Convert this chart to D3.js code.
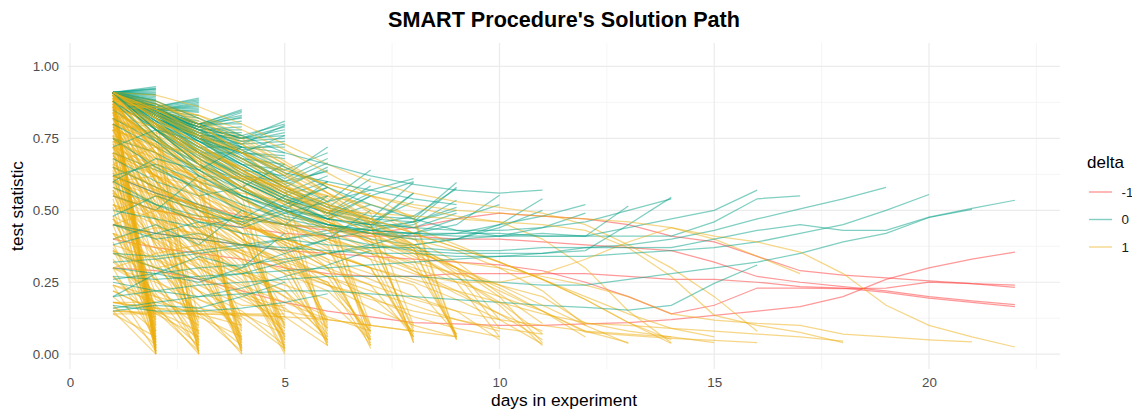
<!DOCTYPE html>
<html>
<head>
<meta charset="utf-8">
<script src="https://cdn.jsdelivr.net/npm/d3@7"></script>
<style>
html,body{margin:0;padding:0;background:#fff;}
svg{display:block;font-family:"Liberation Sans",Arial,sans-serif;}
</style>
</head>
<body>
<svg id="chart" width="1132" height="409"></svg>
<script>
// ---------- data (values per day, starting at day 1) ----------
const deltaLevels = ["-1", "0", "1"];
const xTicks = [0, 5, 10, 15, 20];
const xMinor = [2.5, 7.5, 12.5, 17.5, 22.5];
const yTicks = [0, 0.25, 0.5, 0.75, 1];
const yTickLabels = ["0.00", "0.25", "0.50", "0.75", "1.00"];
const yMinor = [0.125, 0.375, 0.625, 0.875];

// delta = -1
const redLines = [
  [0.30,0.29,0.26,0.22,0.18,0.15,0.13,0.11,0.105,0.10,0.10,0.105,0.11,0.12,0.135,0.15,0.165,0.20,0.26,0.30,0.33,0.355],
  [0.62,0.56,0.52,0.48,0.45,0.43,0.42,0.44,0.47,0.49,0.48,0.47,0.45,0.41,0.39,0.34,0.29,0.275,0.265,0.255,0.245,0.24],
  [0.55,0.50,0.47,0.44,0.42,0.41,0.41,0.41,0.40,0.40,0.39,0.38,0.37,0.36,0.32,0.27,0.25,0.235,0.22,0.20,0.185,0.172],
  [0.45,0.42,0.40,0.38,0.36,0.35,0.34,0.33,0.32,0.31,0.29,0.25,0.20,0.14,0.17,0.23,0.23,0.228,0.23,0.25,0.245,0.232],
  [0.40,0.37,0.35,0.33,0.30,0.28,0.27,0.27,0.28,0.28,0.28,0.28,0.27,0.26,0.26,0.25,0.235,0.23,0.215,0.195,0.18,0.165]
];

// delta = 0
const tealEnd2 = [
  [0.91,0.93],[0.91,0.925],[0.91,0.92],[0.91,0.915],[0.91,0.91],[0.91,0.905],[0.91,0.90],[0.91,0.895],
  [0.91,0.89],[0.91,0.885],[0.91,0.88],[0.91,0.875],[0.91,0.87],[0.91,0.865],[0.91,0.86],[0.91,0.855],
  [0.91,0.85],[0.91,0.922],[0.91,0.902],[0.91,0.882],[0.91,0.862]
];
const tealEnd3 = [
  [0.91,0.86,0.89],[0.91,0.86,0.885],[0.91,0.855,0.88],[0.91,0.85,0.875],[0.91,0.85,0.87],[0.91,0.85,0.86],
  [0.91,0.85,0.855],[0.91,0.845,0.85],[0.91,0.85,0.84],[0.91,0.845,0.83],[0.91,0.84,0.82],[0.91,0.84,0.81],
  [0.91,0.835,0.80],[0.91,0.83,0.79],[0.91,0.85,0.865],[0.91,0.85,0.845]
];
const tealEnd4 = [
  [0.91,0.85,0.80,0.85],[0.91,0.85,0.80,0.845],[0.91,0.84,0.79,0.84],[0.91,0.85,0.80,0.83],[0.91,0.84,0.79,0.825],
  [0.91,0.85,0.80,0.82],[0.91,0.84,0.79,0.81],[0.91,0.85,0.80,0.80],[0.91,0.84,0.78,0.79],[0.91,0.83,0.78,0.78],
  [0.91,0.84,0.77,0.77],[0.91,0.82,0.76,0.76],[0.91,0.83,0.76,0.75],[0.91,0.82,0.75,0.73],[0.91,0.80,0.72,0.72],
  [0.91,0.78,0.70,0.70]
];
const tealEnd5 = [
  [0.91,0.85,0.80,0.75,0.81],[0.91,0.85,0.80,0.76,0.80],[0.91,0.84,0.79,0.75,0.79],[0.91,0.85,0.79,0.75,0.78],
  [0.91,0.84,0.78,0.74,0.77],[0.91,0.85,0.79,0.75,0.76],[0.91,0.84,0.78,0.74,0.75],[0.91,0.83,0.77,0.73,0.74],
  [0.91,0.83,0.77,0.72,0.72],[0.91,0.82,0.76,0.72,0.70],[0.91,0.82,0.75,0.70,0.69],[0.91,0.81,0.75,0.70,0.68],
  [0.91,0.80,0.74,0.68,0.66],[0.91,0.80,0.72,0.66,0.64],[0.91,0.79,0.71,0.64,0.62],[0.91,0.78,0.69,0.62,0.60],
  [0.91,0.84,0.78,0.73,0.795],[0.91,0.83,0.76,0.71,0.73]
];
const tealEnd6 = [
  [0.91,0.84,0.77,0.70,0.62,0.72],[0.91,0.85,0.78,0.71,0.64,0.70],[0.91,0.83,0.75,0.68,0.61,0.68],
  [0.91,0.84,0.76,0.69,0.60,0.665],[0.91,0.82,0.74,0.66,0.58,0.65],[0.91,0.83,0.75,0.67,0.59,0.64],
  [0.91,0.81,0.72,0.64,0.56,0.62],[0.91,0.80,0.70,0.62,0.55,0.60],[0.88,0.78,0.68,0.60,0.53,0.58],
  [0.85,0.75,0.66,0.58,0.51,0.55],[0.91,0.84,0.76,0.68,0.60,0.635]
];
const tealEnd7 = [
  [0.91,0.84,0.76,0.68,0.60,0.53,0.64],[0.91,0.83,0.74,0.66,0.58,0.51,0.61],[0.91,0.82,0.73,0.64,0.56,0.49,0.585],
  [0.90,0.80,0.70,0.62,0.55,0.49,0.56],[0.88,0.78,0.68,0.60,0.53,0.47,0.55],[0.91,0.81,0.71,0.62,0.54,0.47,0.52]
];
const tealEnd8to11 = [
  [0.91,0.83,0.74,0.65,0.57,0.51,0.47,0.597],
  [0.90,0.80,0.70,0.61,0.54,0.49,0.45,0.56],
  [0.32,0.33,0.35,0.37,0.40,0.43,0.46,0.53],
  [0.91,0.84,0.75,0.66,0.58,0.52,0.48,0.47,0.597],
  [0.91,0.82,0.72,0.63,0.55,0.50,0.47,0.46,0.58],
  [0.62,0.56,0.51,0.47,0.45,0.44,0.43,0.45,0.535],
  [0.35,0.34,0.36,0.38,0.40,0.42,0.44,0.46,0.51],
  [0.91,0.80,0.70,0.61,0.54,0.49,0.46,0.44,0.49],
  [0.91,0.78,0.66,0.57,0.50,0.45,0.42,0.42,0.45,0.552],
  [0.91,0.80,0.68,0.58,0.50,0.44,0.40,0.38,0.40,0.45,0.54],
  [0.26,0.28,0.30,0.31,0.33,0.35,0.37,0.38,0.40,0.44,0.50]
];
const tealMixed = [
  [0.55,0.50,0.62],[0.40,0.45,0.38,0.50],[0.68,0.60,0.55,0.58,0.66],[0.30,0.28,0.34,0.30,0.42],
  [0.75,0.70,0.62,0.55,0.50,0.60],[0.50,0.47,0.44,0.48,0.45,0.55],[0.20,0.28,0.25,0.30,0.35,0.40,0.50],
  [0.82,0.74,0.66,0.60,0.53,0.47,0.44,0.56],[0.62,0.66,0.60,0.55,0.50,0.47,0.45,0.48,0.575],
  [0.45,0.40,0.42,0.38,0.36,0.40,0.43,0.46,0.50],[0.91,0.86,0.78,0.70,0.63,0.60,0.57,0.54,0.52],
  [0.35,0.30,0.26,0.28,0.32,0.35,0.38,0.42,0.47,0.52],[0.70,0.64,0.58,0.52,0.47,0.44,0.42,0.41,0.42,0.45,0.48,0.52],
  [0.91,0.87,0.80,0.72,0.65,0.58,0.52,0.47,0.43,0.41,0.44,0.49],[0.58,0.52,0.48,0.46,0.50,0.48,0.55,0.60],
  [0.25,0.22,0.20,0.23,0.27,0.31,0.36],[0.48,0.55,0.50,0.45,0.52,0.58],[0.15,0.17,0.16,0.20,0.25],
  [0.65,0.58,0.52,0.47,0.55],[0.80,0.72,0.64,0.57,0.51,0.47,0.45,0.44,0.43,0.43,0.44,0.46,0.50,0.54],
  [0.91,0.88,0.82,0.76,0.70,0.66,0.62,0.59,0.57,0.56,0.57],[0.38,0.42,0.46,0.44,0.49,0.53,0.57,0.61],
  [0.17,0.15,0.15,0.16,0.18,0.21],[0.72,0.78,0.74,0.70,0.76],[0.60,0.68,0.64,0.72]
];
const tealLong = [
  [0.91,0.78,0.66,0.57,0.50,0.45,0.42,0.40,0.40,0.41,0.42,0.41,0.515],
  [0.75,0.65,0.57,0.50,0.45,0.41,0.38,0.36,0.35,0.35,0.35,0.36,0.45,0.545],
  [0.16,0.18,0.20,0.21,0.22,0.22,0.21,0.20,0.19,0.18,0.17,0.163,0.153,0.17,0.246,0.31],
  [0.91,0.76,0.64,0.55,0.49,0.45,0.43,0.42,0.42,0.42,0.41,0.41,0.44,0.47,0.50,0.57],
  [0.88,0.74,0.62,0.54,0.48,0.45,0.43,0.42,0.41,0.41,0.41,0.41,0.41,0.41,0.46,0.54,0.55],
  [0.60,0.52,0.46,0.42,0.40,0.38,0.37,0.37,0.36,0.36,0.37,0.37,0.38,0.40,0.43,0.47,0.505,0.54,0.58],
  [0.45,0.42,0.40,0.38,0.37,0.36,0.35,0.35,0.34,0.34,0.34,0.34,0.35,0.36,0.37,0.39,0.42,0.45,0.50,0.555],
  [0.20,0.22,0.24,0.25,0.26,0.27,0.27,0.27,0.26,0.25,0.24,0.24,0.26,0.28,0.30,0.32,0.35,0.39,0.42,0.475,0.503],
  [0.27,0.26,0.27,0.28,0.29,0.30,0.31,0.32,0.33,0.34,0.35,0.37,0.37,0.37,0.40,0.43,0.45,0.43,0.43,0.476,0.507,0.535]
];

// delta = 1
const yellowEnd2 = [
  [0.91,0.00],[0.91,0.03],[0.90,0.06],[0.89,0.01],[0.88,0.09],[0.87,0.02],[0.86,0.05],[0.85,0.12],
  [0.84,0.00],[0.82,0.04],[0.80,0.07],[0.78,0.02],[0.76,0.10],[0.74,0.01],[0.72,0.05],[0.70,0.14],
  [0.68,0.03],[0.66,0.08],[0.64,0.00],[0.62,0.11],[0.60,0.04],[0.57,0.16],[0.54,0.06],[0.51,0.02],
  [0.48,0.13],[0.45,0.08],[0.42,0.20],[0.39,0.03],[0.36,0.10],[0.33,0.17],[0.30,0.05],[0.27,0.12],
  [0.24,0.01],[0.22,0.15],[0.20,0.08],[0.18,0.18],[0.17,0.03],[0.16,0.13],[0.15,0.00],[0.14,0.06],
  [0.91,0.01],[0.90,0.02],[0.89,0.04],[0.88,0.00],[0.87,0.03],[0.86,0.01]
];
const yellowEnd3 = [
  [0.91,0.78,0.00],[0.91,0.70,0.03],[0.90,0.64,0.07],[0.89,0.58,0.01],[0.88,0.52,0.10],[0.87,0.83,0.04],
  [0.86,0.47,0.02],[0.85,0.74,0.12],[0.84,0.41,0.05],[0.82,0.61,0.00],[0.80,0.36,0.08],[0.78,0.55,0.03],
  [0.76,0.31,0.14],[0.73,0.49,0.06],[0.70,0.27,0.01],[0.67,0.44,0.09],[0.63,0.24,0.04],[0.60,0.38,0.11],
  [0.56,0.21,0.02],[0.52,0.33,0.07],[0.47,0.19,0.13],[0.42,0.26,0.05],[0.37,0.17,0.00],[0.32,0.20,0.10],
  [0.27,0.16,0.03],[0.22,0.15,0.08],[0.18,0.15,0.01],[0.15,0.14,0.06]
];
const yellowEnd4 = [
  [0.91,0.80,0.62,0.00],[0.91,0.72,0.55,0.04],[0.90,0.66,0.48,0.08],[0.89,0.84,0.70,0.02],[0.88,0.60,0.42,0.11],
  [0.87,0.76,0.58,0.05],[0.86,0.55,0.37,0.01],[0.84,0.68,0.50,0.09],[0.82,0.50,0.33,0.03],[0.80,0.63,0.44,0.13],
  [0.78,0.46,0.29,0.06],[0.75,0.58,0.40,0.01],[0.72,0.42,0.26,0.10],[0.69,0.53,0.35,0.04],[0.65,0.38,0.22,0.07],
  [0.61,0.47,0.31,0.02],[0.57,0.34,0.19,0.12],[0.52,0.40,0.27,0.05],[0.47,0.30,0.17,0.00],[0.42,0.33,0.22,0.08],
  [0.36,0.26,0.15,0.03],[0.30,0.22,0.14,0.10],[0.24,0.18,0.14,0.01],[0.18,0.16,0.13,0.06]
];
const yellowEnd5 = [
  [0.91,0.82,0.70,0.55,0.01],[0.91,0.76,0.62,0.48,0.05],[0.90,0.70,0.55,0.42,0.09],[0.89,0.86,0.76,0.62,0.02],
  [0.88,0.65,0.50,0.37,0.13],[0.87,0.79,0.66,0.52,0.06],[0.86,0.60,0.45,0.33,0.03],[0.84,0.72,0.58,0.45,0.10],
  [0.82,0.56,0.41,0.29,0.01],[0.80,0.67,0.52,0.40,0.15],[0.78,0.51,0.37,0.26,0.07],[0.75,0.62,0.48,0.36,0.02],
  [0.72,0.47,0.33,0.23,0.11],[0.69,0.57,0.43,0.32,0.04],[0.65,0.43,0.30,0.21,0.08],[0.61,0.52,0.39,0.28,0.00],
  [0.57,0.39,0.27,0.19,0.12],[0.52,0.45,0.34,0.25,0.05],[0.47,0.35,0.24,0.17,0.17],[0.42,0.37,0.30,0.22,0.09],
  [0.36,0.30,0.22,0.15,0.03],[0.30,0.25,0.19,0.14,0.14],[0.24,0.20,0.16,0.13,0.02],[0.18,0.16,0.15,0.14,0.07]
];
const yellowEnd6 = [
  [0.91,0.84,0.75,0.64,0.52,0.04],[0.91,0.78,0.66,0.55,0.45,0.08],[0.90,0.73,0.60,0.49,0.39,0.12],
  [0.89,0.87,0.80,0.70,0.58,0.06],[0.88,0.69,0.55,0.44,0.35,0.03],[0.86,0.80,0.70,0.59,0.48,0.10],
  [0.84,0.64,0.50,0.40,0.31,0.05],[0.82,0.75,0.63,0.52,0.42,0.09],[0.79,0.60,0.46,0.36,0.28,0.04],
  [0.76,0.70,0.58,0.47,0.37,0.11],[0.72,0.56,0.43,0.33,0.25,0.07],[0.68,0.62,0.50,0.40,0.32,0.03],
  [0.63,0.50,0.38,0.29,0.22,0.09],[0.56,0.47,0.37,0.28,0.20,0.06],[0.48,0.40,0.31,0.24,0.18,0.12],
  [0.38,0.33,0.27,0.21,0.16,0.05]
];
const yellowEnd7 = [
  [0.91,0.85,0.77,0.68,0.58,0.48,0.03],[0.91,0.80,0.70,0.60,0.50,0.41,0.07],[0.90,0.76,0.64,0.54,0.45,0.37,0.10],
  [0.89,0.88,0.82,0.73,0.63,0.53,0.05],[0.87,0.72,0.60,0.50,0.41,0.33,0.02],[0.85,0.82,0.73,0.63,0.54,0.45,0.08],
  [0.82,0.68,0.56,0.46,0.38,0.30,0.04],[0.78,0.73,0.64,0.55,0.46,0.38,0.09],[0.73,0.62,0.51,0.42,0.34,0.27,0.06],
  [0.66,0.58,0.48,0.39,0.31,0.25,0.03],[0.58,0.51,0.43,0.35,0.28,0.22,0.08],[0.45,0.41,0.35,0.29,0.24,0.19,0.05]
];
const yellowEnd8 = [
  [0.91,0.86,0.79,0.71,0.62,0.53,0.45,0.04],[0.91,0.82,0.73,0.64,0.55,0.47,0.40,0.08],
  [0.90,0.78,0.67,0.58,0.50,0.43,0.36,0.06],[0.88,0.87,0.83,0.76,0.67,0.58,0.49,0.10],
  [0.86,0.74,0.63,0.54,0.46,0.39,0.33,0.05],[0.83,0.79,0.71,0.62,0.54,0.46,0.39,0.09],
  [0.79,0.70,0.60,0.51,0.43,0.36,0.30,0.07],[0.74,0.66,0.62,0.61,0.60,0.55,0.45,0.04],
  [0.65,0.58,0.50,0.42,0.35,0.29,0.24,0.06],[0.52,0.47,0.41,0.35,0.29,0.24,0.20,0.08]
];
const yellowEnd9 = [
  [0.91,0.87,0.81,0.74,0.66,0.58,0.50,0.42,0.05],[0.90,0.83,0.75,0.67,0.59,0.51,0.44,0.37,0.06],
  [0.89,0.79,0.69,0.60,0.52,0.45,0.39,0.33,0.065],[0.87,0.86,0.83,0.78,0.71,0.63,0.55,0.47,0.055],
  [0.84,0.76,0.67,0.58,0.50,0.43,0.37,0.31,0.07],[0.80,0.77,0.71,0.64,0.57,0.50,0.43,0.37,0.05],
  [0.75,0.70,0.65,0.61,0.58,0.55,0.52,0.48,0.06],[0.62,0.57,0.51,0.45,0.39,0.33,0.28,0.24,0.07]
];
const yellowEnd10to11 = [
  [0.91,0.84,0.76,0.68,0.60,0.52,0.44,0.36,0.25,0.06],
  [0.88,0.85,0.80,0.73,0.65,0.56,0.47,0.38,0.28,0.09],
  [0.80,0.74,0.68,0.62,0.56,0.50,0.44,0.38,0.30,0.12],
  [0.70,0.62,0.54,0.46,0.39,0.32,0.26,0.20,0.15,0.05],
  [0.91,0.85,0.78,0.70,0.62,0.54,0.46,0.38,0.30,0.20,0.04],
  [0.90,0.80,0.70,0.61,0.53,0.46,0.40,0.34,0.27,0.18,0.07],
  [0.86,0.80,0.72,0.64,0.56,0.49,0.42,0.35,0.27,0.17,0.03],
  [0.82,0.76,0.70,0.63,0.57,0.51,0.46,0.40,0.32,0.21,0.107],
  [0.74,0.68,0.61,0.54,0.47,0.41,0.35,0.29,0.22,0.14,0.05],
  [0.60,0.55,0.50,0.45,0.40,0.35,0.30,0.25,0.19,0.12,0.035]
];
const yellowMixed = [
  [0.60,0.62,0.58,0.50,0.42,0.30,0.05],[0.50,0.55,0.52,0.46,0.40,0.35,0.30,0.06],
  [0.70,0.64,0.60,0.56,0.53,0.50,0.49,0.48,0.47,0.46,0.40,0.30,0.15,0.04],
  [0.91,0.90,0.86,0.80,0.73,0.66,0.60,0.56,0.53,0.51,0.49,0.45,0.38,0.30,0.20,0.08],
  [0.55,0.50,0.48,0.47,0.45,0.44,0.42,0.40,0.36,0.30,0.22,0.10],
  [0.85,0.86,0.82,0.75,0.66,0.56,0.46,0.37,0.29,0.22,0.15,0.08,0.04],
  [0.40,0.44,0.42,0.38,0.33,0.27,0.20,0.13,0.09,0.06],
  [0.91,0.88,0.80,0.70,0.59,0.48,0.38,0.29,0.21,0.14,0.08],
  [0.30,0.35,0.38,0.36,0.32,0.27,0.22,0.17,0.12,0.08],
  [0.78,0.80,0.76,0.70,0.63,0.56,0.50,0.44,0.38,0.32,0.26,0.20,0.14,0.09,0.06],
  [0.66,0.72,0.70,0.65,0.58,0.50,0.10],[0.45,0.50,0.47,0.42,0.10],
  [0.88,0.70,0.52,0.40,0.30,0.24,0.19,0.15,0.12,0.09,0.07],
  [0.91,0.75,0.60,0.48,0.38,0.30,0.24,0.19,0.15,0.12,0.10,0.08,0.07,0.06],
  [0.72,0.65,0.60,0.62,0.58,0.52,0.47,0.42,0.37,0.32,0.26,0.19,0.11,0.05],
  [0.35,0.30,0.33,0.28,0.22,0.05],[0.58,0.48,0.40,0.35,0.06],[0.83,0.72,0.60,0.02],
  [0.62,0.55,0.45,0.38,0.30,0.25,0.08],[0.91,0.60,0.35,0.20,0.15,0.12,0.10,0.08,0.06],
  [0.14,0.14,0.14,0.135,0.13,0.12,0.10,0.08],[0.15,0.145,0.14,0.14,0.13,0.03],
  [0.91,0.82,0.66,0.50,0.36,0.24,0.16,0.10,0.06],[0.90,0.62,0.44,0.30,0.20,0.13,0.08]
];
const yellowLong = [
  [0.78,0.72,0.65,0.58,0.52,0.46,0.41,0.36,0.30,0.23,0.15,0.06],
  [0.91,0.82,0.73,0.64,0.56,0.49,0.42,0.36,0.30,0.24,0.17,0.10,0.037],
  [0.88,0.80,0.72,0.65,0.58,0.52,0.47,0.42,0.37,0.32,0.26,0.19,0.11,0.037],
  [0.65,0.58,0.51,0.45,0.40,0.35,0.30,0.26,0.22,0.18,0.14,0.11,0.08,0.06,0.04],
  [0.75,0.66,0.58,0.51,0.45,0.40,0.35,0.30,0.25,0.20,0.15,0.077,0.065,0.055,0.048,0.04],
  [0.91,0.84,0.77,0.70,0.64,0.59,0.55,0.52,0.50,0.49,0.48,0.47,0.46,0.44,0.40,0.34,0.28],
  [0.91,0.83,0.76,0.70,0.64,0.59,0.55,0.51,0.48,0.46,0.45,0.43,0.37,0.27,0.135,0.10,0.076,0.04],
  [0.70,0.62,0.55,0.49,0.44,0.40,0.36,0.32,0.28,0.24,0.20,0.107,0.10,0.09,0.08,0.07,0.06,0.045],
  [0.85,0.75,0.66,0.58,0.50,0.44,0.39,0.35,0.32,0.30,0.27,0.24,0.20,0.14,0.118,0.107,0.10,0.07,0.06,0.05,0.043],
  [0.91,0.80,0.68,0.57,0.48,0.40,0.33,0.28,0.25,0.25,0.28,0.33,0.39,0.44,0.41,0.39,0.355,0.28,0.17,0.10,0.06,0.025]
];

// ---------- build series: red first, then teal and yellow interleaved ----------
const tealGroups = [tealEnd2, tealEnd3, tealEnd4, tealEnd5, tealEnd6, tealEnd7, tealEnd8to11, tealMixed, tealLong];
const yellowGroups = [yellowEnd2, yellowEnd3, yellowEnd4, yellowEnd5, yellowEnd6, yellowEnd7, yellowEnd8, yellowEnd9, yellowEnd10to11, yellowMixed, yellowLong];
const tealSeries = tealGroups.flat().map(v => ({delta: "0", values: v}));
const yellowSeries = yellowGroups.flat().map(v => ({delta: "1", values: v}));
const series = redLines.map(v => ({delta: "-1", values: v}));
const nMax = Math.max(tealSeries.length, yellowSeries.length);
for (let i = 0; i < nMax; i++) {
  const tIdx = Math.floor(i * tealSeries.length / nMax);
  if (i < yellowSeries.length) series.push(yellowSeries[i]);
  if (Math.floor((i + 1) * tealSeries.length / nMax) > tIdx) series.push(tealSeries[tIdx]);
}

// ---------- chart ----------
const svg = d3.select("#chart");
const x = d3.scaleLinear().domain([-0.05, 23.05]).range([67.85, 1060]);
const y = d3.scaleLinear().domain([-0.0515, 1.0815]).range([369, 43]);
const color = d3.scaleOrdinal().domain(deltaLevels).range(["#FF3333", "#00A085", "#EDB012"]);

// grid
const grid = svg.append("g");
grid.selectAll(".ymin").data(yMinor).join("line")
  .attr("x1", 67.85).attr("x2", 1060).attr("y1", d => y(d)).attr("y2", d => y(d))
  .attr("stroke", "#f2f2f2").attr("stroke-width", 0.8);
grid.selectAll(".xmin").data(xMinor).join("line")
  .attr("y1", 43).attr("y2", 369).attr("x1", d => x(d)).attr("x2", d => x(d))
  .attr("stroke", "#f2f2f2").attr("stroke-width", 0.8);
grid.selectAll(".ymaj").data(yTicks).join("line")
  .attr("x1", 67.85).attr("x2", 1060).attr("y1", d => y(d)).attr("y2", d => y(d))
  .attr("stroke", "#ebebeb").attr("stroke-width", 1.2);
grid.selectAll(".xmaj").data(xTicks).join("line")
  .attr("y1", 43).attr("y2", 369).attr("x1", d => x(d)).attr("x2", d => x(d))
  .attr("stroke", "#ebebeb").attr("stroke-width", 1.2);

// lines
const line = d3.line().x((d, i) => x(i + 1)).y(d => y(d));
svg.append("g").selectAll("path").data(series).join("path")
  .attr("d", d => line(d.values))
  .attr("fill", "none")
  .attr("stroke", d => color(d.delta))
  .attr("stroke-width", 1.25)
  .attr("stroke-opacity", 0.5);

// axes
const yAxis = svg.append("g").attr("transform", "translate(67.85,0)")
  .call(d3.axisLeft(y).tickValues(yTicks).tickFormat((d, i) => yTickLabels[i]).tickSize(0).tickPadding(9));
const xAxis = svg.append("g").attr("transform", "translate(0,369)")
  .call(d3.axisBottom(x).tickValues(xTicks).tickFormat(d3.format("d")).tickSize(0).tickPadding(8));
[yAxis, xAxis].forEach(a => {
  a.select(".domain").remove();
  a.selectAll("text").attr("fill", "#4d4d4d").style("font-size", "13.4px")
    .style("font-family", "'Liberation Sans', Arial, sans-serif");
});

// titles
svg.append("text").attr("x", 564).attr("y", 27).attr("text-anchor", "middle")
  .style("font-size", "21.6px").style("font-weight", "bold").attr("fill", "#000")
  .text("SMART Procedure's Solution Path");
svg.append("text").attr("x", 564).attr("y", 406).attr("text-anchor", "middle")
  .style("font-size", "17.4px").attr("fill", "#000").text("days in experiment");
svg.append("text").attr("transform", "translate(23,206) rotate(-90)").attr("text-anchor", "middle")
  .style("font-size", "17.2px").attr("fill", "#000").text("test statistic");

// legend
const legend = svg.append("g");
legend.append("text").attr("x", 1087).attr("y", 168).style("font-size", "17px").attr("fill", "#000").text("delta");
const keyY = [192, 219.5, 247];
deltaLevels.forEach((lv, i) => {
  legend.append("line").attr("x1", 1089).attr("x2", 1112).attr("y1", keyY[i]).attr("y2", keyY[i])
    .attr("stroke", color(lv)).attr("stroke-width", 1.4).attr("stroke-opacity", 0.5);
  legend.append("text").attr("x", 1121.5).attr("y", keyY[i] + 4.8).style("font-size", "13.4px")
    .attr("fill", "#1a1a1a").text(lv);
});
</script>
</body>
</html>
